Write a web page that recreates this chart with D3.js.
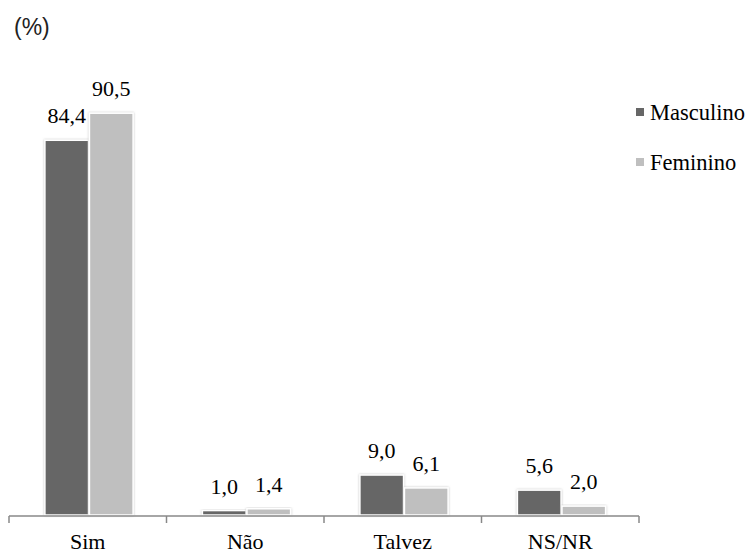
<!DOCTYPE html>
<html><head><meta charset="utf-8">
<script src="https://cdn.jsdelivr.net/npm/d3@7"></script>
<style>body{margin:0;background:#fff;} svg{display:block;} .serif{font-family:"Liberation Serif","DejaVu Serif",serif;}</style>
</head><body>
<svg id="chart" width="749" height="553"></svg>
<script>
const categories = ["Sim", "Não", "Talvez", "NS/NR"];
const seriesNames = ["Masculino", "Feminino"];
const masculino = [84.4, 1.0, 9.0, 5.6];
const feminino = [90.5, 1.4, 6.1, 2.0];
const colors = ["#666666", "#bfbfbf"];
const labelFmt = v => v.toFixed(1).replace(".", ",");

const svg = d3.select("#chart");
const defs = svg.append("defs");
const f = defs.append("filter").attr("id","sh").attr("x","-20%").attr("y","-20%").attr("width","140%").attr("height","140%");
f.append("feDropShadow").attr("dx",0).attr("dy",0).attr("stdDeviation",1.2).attr("flood-color","#999").attr("flood-opacity",0.6);

const left = 9, right = 639, base = 515;
const x0 = d3.scaleBand().domain(categories).range([left, right]).paddingInner(0).paddingOuter(0);
const x1 = d3.scaleBand().domain(seriesNames).range([35, 125]).padding(0.02);
const y = d3.scaleLinear().domain([0, 100]).range([base, base - 444]);

const data = categories.map((c,i)=>({cat:c, vals:[masculino[i], feminino[i]]}));

const g = svg.append("g");
const groups = g.selectAll("g.grp").data(data).join("g").attr("class","grp")
  .attr("transform", d => `translate(${x0(d.cat)},0)`);

groups.selectAll("rect").data(d => d.vals.map((v,j)=>({v, s:seriesNames[j], j})))
  .join("rect")
  .attr("x", d => x1(d.s)).attr("width", x1.bandwidth())
  .attr("y", d => y(d.v)).attr("height", d => base - y(d.v))
  .attr("fill", d => colors[d.j])
  .attr("stroke", "#fff").attr("stroke-width", 1.5)
  .attr("filter", "url(#sh)");

groups.selectAll("text.val").data(d => d.vals.map((v,j)=>({v, s:seriesNames[j], j})))
  .join("text").attr("class","val serif")
  .attr("x", d => x1(d.s) + x1.bandwidth()/2)
  .attr("y", d => y(d.v) - 17)
  .attr("text-anchor","middle")
  .style("font-size", "22px")
  .attr("fill","#000")
  .text(d => labelFmt(d.v));

// axis
const axis = d3.axisBottom(x0).tickSize(0).tickPadding(0);
const ax = svg.append("g").attr("transform", `translate(0,${base + 1})`).call(axis);
ax.attr("font-family", null).attr("font-size", null);
ax.select(".domain").attr("stroke","#888").attr("stroke-width",1.6).attr("d", `M${left},0H${right}`);
ax.selectAll(".tick text").attr("class","serif")
  .style("font-size","22px").attr("fill","#000").attr("y", 33).attr("dy", 0);
// boundary ticks
const bounds = categories.map(c => x0(c)).concat([right]);
ax.selectAll("line.bt").data(bounds).join("line").attr("class","bt")
  .attr("x1", d=>d).attr("x2", d=>d).attr("y1",0).attr("y2",7)
  .attr("stroke","#888").attr("stroke-width",1.5);

// unit label
svg.append("text").attr("x",14).attr("y",35)
  .style("font-family","'Liberation Sans', Arial, sans-serif").style("font-size","23px")
  .attr("fill","#222").text("(%)");

// legend
const lg = svg.append("g").attr("transform","translate(636,0)");
const items = lg.selectAll("g").data(seriesNames).join("g")
  .attr("transform",(d,i)=>`translate(0,${120 + i*50})`);
items.append("rect").attr("x",0).attr("y",-12).attr("width",8).attr("height",8).attr("fill",(d,i)=>colors[i]);
items.append("text").attr("class","serif").attr("x",14).attr("y",0)
  .style("font-size","22.5px")
  .attr("fill","#000").text(d=>d);
</script>
</body></html>
